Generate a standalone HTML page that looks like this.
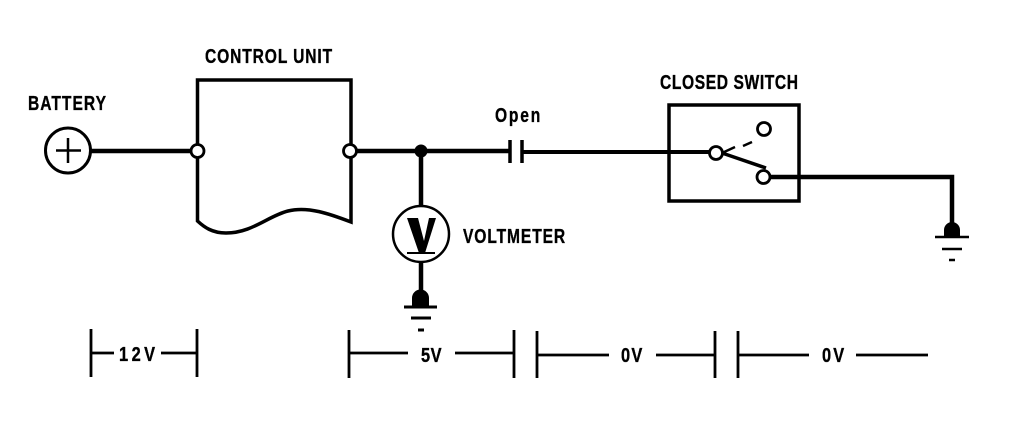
<!DOCTYPE html>
<html>
<head>
<meta charset="utf-8">
<style>
html,body{margin:0;padding:0;background:#fff;}
svg{display:block;}
text{font-family:"Liberation Sans",sans-serif;font-weight:bold;fill:#000;stroke:#000;stroke-width:.35px;}
</style>
</head>
<body>
<svg width="1024" height="422" viewBox="0 0 1024 422" xmlns="http://www.w3.org/2000/svg">
<rect width="1024" height="422" fill="#fff"/>
<g fill="none" stroke="#000" stroke-linecap="butt">
  <!-- Control unit -->
  <path d="M197.500 80H351V222C330 214 308 206 288 211C268 216 252 233 226 233C212 233 204 227 197.500 221Z" stroke-width="3.500"/>
  <!-- wires -->
  <path d="M91 151H197" stroke-width="4.500"/>
  <path d="M350 151H509" stroke-width="4.500"/>
  <path d="M522 152H716" stroke-width="4"/>
  <path d="M763 177H952V226" stroke-width="4.500"/>
  <path d="M421 151V207" stroke-width="4.500"/>
  <path d="M421 262V296" stroke-width="4.500"/>
  <!-- capacitor -->
  <path d="M510 140V163M522 140V163" stroke-width="3.500"/>
  <!-- switch -->
  <rect x="669" y="105" width="130" height="96" stroke-width="3.500"/>
  <path d="M722 153L766 168" stroke-width="3.500"/>
  <path d="M722 153L735 147M743 146L752 142" stroke-width="2.500"/>
  <!-- battery -->
  <circle cx="68" cy="150.500" r="22.500" stroke-width="3"/>
  <path d="M56 150.500H81M68 138V163" stroke-width="2.500"/>
  <!-- voltmeter -->
  <circle cx="421" cy="234" r="28" stroke-width="2.500"/>
  <path d="M407 253H435" stroke-width="2"/>
  <!-- grounds -->
  <path d="M404 307H437M411 318H431M418 330H424" stroke-width="3"/>
  <path d="M935 237H969M942 249H962M949 260H955" stroke-width="2.500"/>
  <!-- measure lines -->
  <g stroke-width="2.800">
    <path d="M91 329V377M197 329V377M91 353H114M161 353H197"/>
    <path d="M349 330V378M514 330V378M349 353H408M455 353H514"/>
    <path d="M537 331V378M715 331V378M537 355H609M656 355H715"/>
    <path d="M738 331V378M738 355H809M856 355H928"/>
  </g>
</g>
<!-- solid glyphs -->
<path d="M407 218H418L424 241L429 218H436L425 253H419Z" fill="#000"/>
<circle cx="421" cy="151" r="6.500" fill="#000"/>
<path d="M412 307V298A8.500 8.500 0 0 1 429 298V307Z" fill="#000"/>
<path d="M944 237V230A8 8 0 0 1 960 230V237Z" fill="#000"/>
<!-- terminals -->
<g fill="#fff" stroke="#000" stroke-width="2.800">
  <circle cx="197.500" cy="151" r="6.500"/>
  <circle cx="350" cy="151" r="6.500"/>
  <circle cx="716" cy="153" r="6.500"/>
  <circle cx="763.500" cy="177" r="6.500"/>
  <circle cx="764" cy="129" r="6.500"/>
</g>
<!-- labels: narrow glyphs with wide tracking -->
<text transform="translate(205 63) scale(.78 1)" font-size="20" textLength="163">CONTROL UNIT</text>
<text transform="translate(28 110) scale(.78 1)" font-size="20" textLength="100">BATTERY</text>
<text transform="translate(495 122) scale(.78 1)" font-size="20" textLength="58">Open</text>
<text transform="translate(660 89) scale(.78 1)" font-size="20" textLength="177">CLOSED SWITCH</text>
<text transform="translate(463 243) scale(.78 1)" font-size="20" textLength="131">VOLTMETER</text>
<text transform="translate(119 361) scale(.82 1)" font-size="20" textLength="44">12V</text>
<text transform="translate(421 362) scale(.82 1)" font-size="20" textLength="25">5V</text>
<text transform="translate(621 362) scale(.82 1)" font-size="20" textLength="26">0V</text>
<text transform="translate(822 362) scale(.82 1)" font-size="20" textLength="27">0V</text>
</svg>
</body>
</html>
